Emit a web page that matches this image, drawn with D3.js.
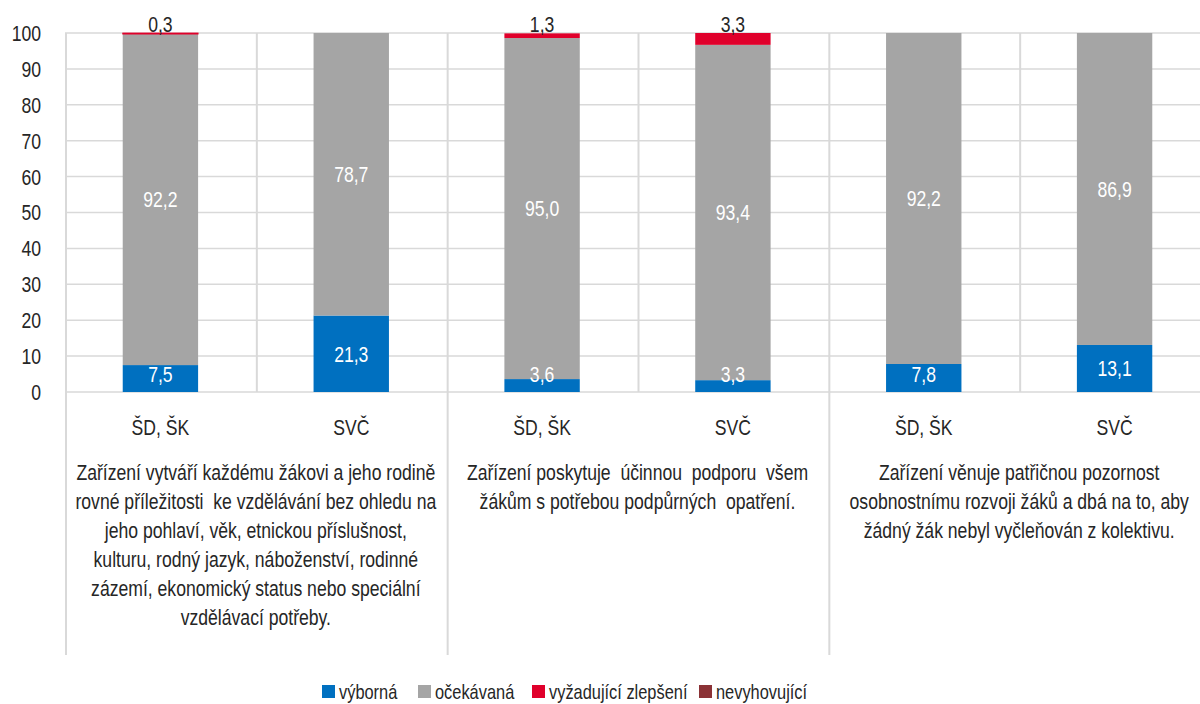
<!DOCTYPE html>
<html>
<head>
<meta charset="utf-8">
<script src="https://cdn.jsdelivr.net/npm/d3@7"></script>
<style>
  body { margin: 0; background: #fff; }
  svg text { font-family: "Liberation Sans", Arial, sans-serif; fill: #262626; }
</style>
</head>
<body>
<script>
window.document.addEventListener('DOMContentLoaded', init, false);

var bars = ['ŠD, ŠK', 'SVČ', 'ŠD, ŠK', 'SVČ', 'ŠD, ŠK', 'SVČ'];
var seriesNames = ['výborná', 'očekávaná', 'vyžadující zlepšení', 'nevyhovující'];
var vyborna = [7.5, 21.3, 3.6, 3.3, 7.8, 13.1];
var ocekavana = [92.2, 78.7, 95.0, 93.4, 92.2, 86.9];
var zlepseni = [0.3, 0, 1.3, 3.3, 0, 0];
var nevyhovujici = [0, 0, 0, 0, 0, 0];
var groupCaptions = [
    ['Zařízení vytváří každému žákovi a jeho rodině',
     'rovné příležitosti  ke vzdělávání bez ohledu na',
     'jeho pohlaví, věk, etnickou příslušnost,',
     'kulturu, rodný jazyk, náboženství, rodinné',
     'zázemí, ekonomický status nebo speciální',
     'vzdělávací potřeby.'],
    ['Zařízení poskytuje  účinnou  podporu  všem',
     'žákům s potřebou podpůrných  opatření.'],
    ['Zařízení věnuje patřičnou pozornost',
     'osobnostnímu rozvoji žáků a dbá na to, aby',
     'žádný žák nebyl vyčleňován z kolektivu.']
];
var yTicks = [0, 10, 20, 30, 40, 50, 60, 70, 80, 90, 100];
var colors = ['#0070c0', '#a5a5a5', '#e0002b', '#8b3236'];

// condensed look: squeeze text horizontally
var K = 0.8;

function placeText(parent, x, y) {
    return parent.append('text')
        .attr('transform', `translate(${x},${y}) scale(${K},1)`);
}

function init() {
    var width = 1200, height = 704;
    var left = 65, right = 1210, top = 33, bottom = 392;

    var svg = d3.select('body').append('svg')
        .attr('width', width)
        .attr('height', height);

    var rows = bars.map((b, i) => ({
        v0: vyborna[i], v1: ocekavana[i], v2: zlepseni[i], v3: nevyhovujici[i]
    }));

    var x = d3.scaleBand().domain(d3.range(bars.length)).range([left, right]);
    var y = d3.scaleLinear().domain([0, 100]).range([bottom, top]);

    // horizontal gridlines
    svg.append('g').selectAll('line').data(yTicks).enter().append('line')
        .attr('x1', left).attr('x2', width)
        .attr('y1', (d) => y(d)).attr('y2', (d) => y(d))
        .attr('stroke', '#d9d9d9').attr('stroke-width', 1.5);

    // vertical lines between bars / groups
    svg.append('g').selectAll('line').data(d3.range(bars.length)).enter().append('line')
        .attr('x1', (d) => x(d) + 1)
        .attr('x2', (d) => x(d) + 1)
        .attr('y1', top)
        .attr('y2', (d) => d % 2 === 0 ? 655 : bottom)
        .attr('stroke', '#d9d9d9').attr('stroke-width', 2);

    // y axis labels
    yTicks.forEach(function (t) {
        placeText(svg, 41, y(t))
            .attr('dy', '0.36em')
            .attr('text-anchor', 'end')
            .attr('font-size', '22px')
            .text(t);
    });

    var stack = d3.stack().keys(['v0', 'v1', 'v2', 'v3']);
    var layers = stack(rows);
    var bw = x.bandwidth() * 0.395;

    var layerG = svg.append('g').selectAll('g').data(layers).enter().append('g')
        .attr('fill', (d, i) => colors[i]);

    layerG.selectAll('rect').data((d) => d).enter().append('rect')
        .attr('x', (d, i) => x(i) + (x.bandwidth() - bw) / 2)
        .attr('width', bw)
        .attr('y', (d) => y(d[1]))
        .attr('height', (d) => Math.max(0, y(d[0]) - y(d[1])))
        .attr('stroke', (d, i, n) => (d[1] - d[0] > 0 && d[1] - d[0] < 1) ? d3.select(n[i].parentNode).attr('fill') : 'none')
        .attr('stroke-width', 0.8);

    // data labels
    layers.forEach(function (layer, li) {
        layer.forEach(function (d, i) {
            var v = d[1] - d[0];
            if (!(v > 0)) return;
            var cx = x(i) + x.bandwidth() / 2;
            var label = d3.format('.1f')(v).replace('.', ',');
            if (li >= 2) {
                placeText(svg, cx, y(d[1]) - 1)
                    .attr('text-anchor', 'middle')
                    .attr('font-size', '22px')
                    .text(label);
            } else {
                var cy = Math.min((y(d[0]) + y(d[1])) / 2, bottom - 18);
                placeText(svg, cx, cy)
                    .attr('dy', '0.36em')
                    .attr('text-anchor', 'middle')
                    .attr('font-size', '22px')
                    .style('fill', '#ffffff')
                    .text(label);
            }
        });
    });

    // category labels
    bars.forEach(function (b, i) {
        placeText(svg, x(i) + x.bandwidth() / 2, 427)
            .attr('dy', '0.36em')
            .attr('text-anchor', 'middle')
            .attr('font-size', '22px')
            .text(b);
    });

    // group captions
    groupCaptions.forEach(function (lines, g) {
        var cx = x(g * 2 + 1);
        placeText(svg, cx, 472)
            .attr('text-anchor', 'middle')
            .attr('font-size', '22px')
            .selectAll('tspan').data(lines).enter().append('tspan')
            .attr('x', 0)
            .attr('dy', (d, i) => i === 0 ? '0.36em' : 29)
            .style('white-space', 'pre')
            .attr('xml:space', 'preserve')
            .text((d) => d);
    });

    // legend
    var legendX = [322, 418, 532, 699];
    seriesNames.forEach(function (s, i) {
        svg.append('rect')
            .attr('x', legendX[i]).attr('y', 685).attr('width', 13).attr('height', 13)
            .attr('fill', colors[i]);
        placeText(svg, legendX[i] + 17, 692)
            .attr('dy', '0.36em')
            .attr('font-size', '20.5px')
            .text(s);
    });
}
</script>
</body>
</html>
